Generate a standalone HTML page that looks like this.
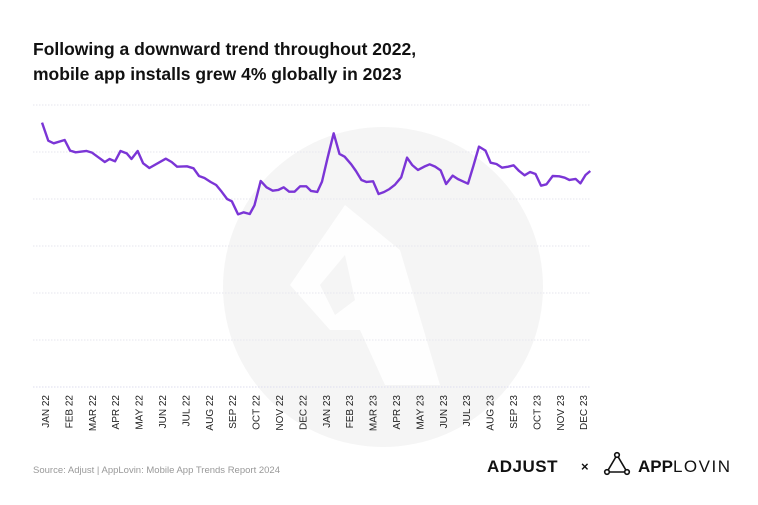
<!DOCTYPE html>
<html><head><meta charset="utf-8"><style>
html,body{margin:0;padding:0;background:#fff;}
body{width:758px;height:505px;overflow:hidden;position:relative;font-family:"Liberation Sans",sans-serif;}
</style></head><body>
<svg width="758" height="505" viewBox="0 0 758 505" xmlns="http://www.w3.org/2000/svg" style="position:absolute;left:0;top:0">
<text x="33" y="55" font-size="17.5" font-weight="bold" fill="#111" font-family="Liberation Sans, sans-serif">Following a downward trend throughout 2022,</text>
<text x="33" y="80" font-size="17.5" font-weight="bold" fill="#111" font-family="Liberation Sans, sans-serif">mobile app installs grew 4% globally in 2023</text>
<circle cx="383" cy="287" r="160" fill="#f5f5f5"/>
<path d="M290 285 L345 205 L400 250 L440 385 L385 385 L360 330 L330 330 Z" fill="#fff" opacity="0.9"/>
<path d="M320 285 L345 255 L355 300 L335 315 Z" fill="#f5f5f5"/>
<g stroke="#e6e6ee" stroke-width="1" stroke-dasharray="1.5 1.5">
<line x1="33" y1="105" x2="590" y2="105"/>
<line x1="33" y1="152" x2="590" y2="152"/>
<line x1="33" y1="199" x2="590" y2="199"/>
<line x1="33" y1="246" x2="590" y2="246"/>
<line x1="33" y1="293" x2="590" y2="293"/>
<line x1="33" y1="340" x2="590" y2="340"/>
<line x1="33" y1="387" x2="590" y2="387" stroke="#dde"/>
</g>
<g transform="translate(30,100) scale(0.365,0.3333)">
<polyline fill="none" stroke="#7b35d6" stroke-width="2.4" vector-effect="non-scaling-stroke" stroke-linejoin="round" points="33,68 50,122 65,130 95,120 110,152 125,157 155,153 170,158 185,170 205,186 218,177 233,184 248,153 265,160 278,177 295,153 310,190 327,204 372,176 388,186 403,200 430,199 448,205 463,228 478,234 495,246 510,255 525,275 540,297 553,304 570,343 585,337 602,342 615,316 632,243 648,262 665,272 680,270 695,262 710,275 725,275 740,259 757,259 770,273 787,276 800,245 815,175 832,100 848,162 862,170 880,193 893,213 908,240 922,246 940,244 955,282 970,276 985,267 1000,254 1017,232 1033,173 1047,195 1063,210 1080,200 1095,193 1110,200 1125,211 1140,252 1158,227 1172,237 1188,245 1200,251 1215,197 1230,140 1248,152 1262,188 1278,192 1293,203 1310,200 1325,196 1340,213 1355,226 1370,216 1385,222 1400,257 1415,253 1432,228 1450,229 1465,233 1478,240 1495,237 1508,250 1522,225 1535,213"/>
</g>
<g font-size="10" fill="#222" font-family="Liberation Sans, sans-serif" text-anchor="end">
<text transform="translate(49,395) rotate(-90)">JAN 22</text>
<text transform="translate(72.4,395) rotate(-90)">FEB 22</text>
<text transform="translate(95.8,395) rotate(-90)">MAR 22</text>
<text transform="translate(119.2,395) rotate(-90)">APR 22</text>
<text transform="translate(142.6,395) rotate(-90)">MAY 22</text>
<text transform="translate(166,395) rotate(-90)">JUN 22</text>
<text transform="translate(189.4,395) rotate(-90)">JUL 22</text>
<text transform="translate(212.8,395) rotate(-90)">AUG 22</text>
<text transform="translate(236.2,395) rotate(-90)">SEP 22</text>
<text transform="translate(259.6,395) rotate(-90)">OCT 22</text>
<text transform="translate(283,395) rotate(-90)">NOV 22</text>
<text transform="translate(306.4,395) rotate(-90)">DEC 22</text>
<text transform="translate(329.8,395) rotate(-90)">JAN 23</text>
<text transform="translate(353.2,395) rotate(-90)">FEB 23</text>
<text transform="translate(376.6,395) rotate(-90)">MAR 23</text>
<text transform="translate(400,395) rotate(-90)">APR 23</text>
<text transform="translate(423.4,395) rotate(-90)">MAY 23</text>
<text transform="translate(446.8,395) rotate(-90)">JUN 23</text>
<text transform="translate(470.2,395) rotate(-90)">JUL 23</text>
<text transform="translate(493.6,395) rotate(-90)">AUG 23</text>
<text transform="translate(517,395) rotate(-90)">SEP 23</text>
<text transform="translate(540.4,395) rotate(-90)">OCT 23</text>
<text transform="translate(563.8,395) rotate(-90)">NOV 23</text>
<text transform="translate(587.2,395) rotate(-90)">DEC 23</text>
</g>
<text x="33" y="473" font-size="9.5" fill="#999" font-family="Liberation Sans, sans-serif">Source: Adjust | AppLovin: Mobile App Trends Report 2024</text>
<text x="487" y="472" font-size="17" font-weight="bold" fill="#111" font-family="Liberation Sans, sans-serif" letter-spacing="0.5">ADJUST</text>
<text x="581" y="471" font-size="13" font-weight="bold" fill="#111" font-family="Liberation Sans, sans-serif">×</text>
<g stroke="#111" stroke-width="1.6" fill="#fff">
<path d="M617 455 L607 472 L627 472 Z" fill="none"/>
<circle cx="617" cy="455" r="2.3"/>
<circle cx="607" cy="472" r="2.3"/>
<circle cx="627" cy="472" r="2.3"/>
</g>
<text x="638" y="472" font-size="17" fill="#111" font-family="Liberation Sans, sans-serif"><tspan font-weight="bold">APP</tspan><tspan letter-spacing="1.5">LOVIN</tspan></text>
</svg>
</body></html>
